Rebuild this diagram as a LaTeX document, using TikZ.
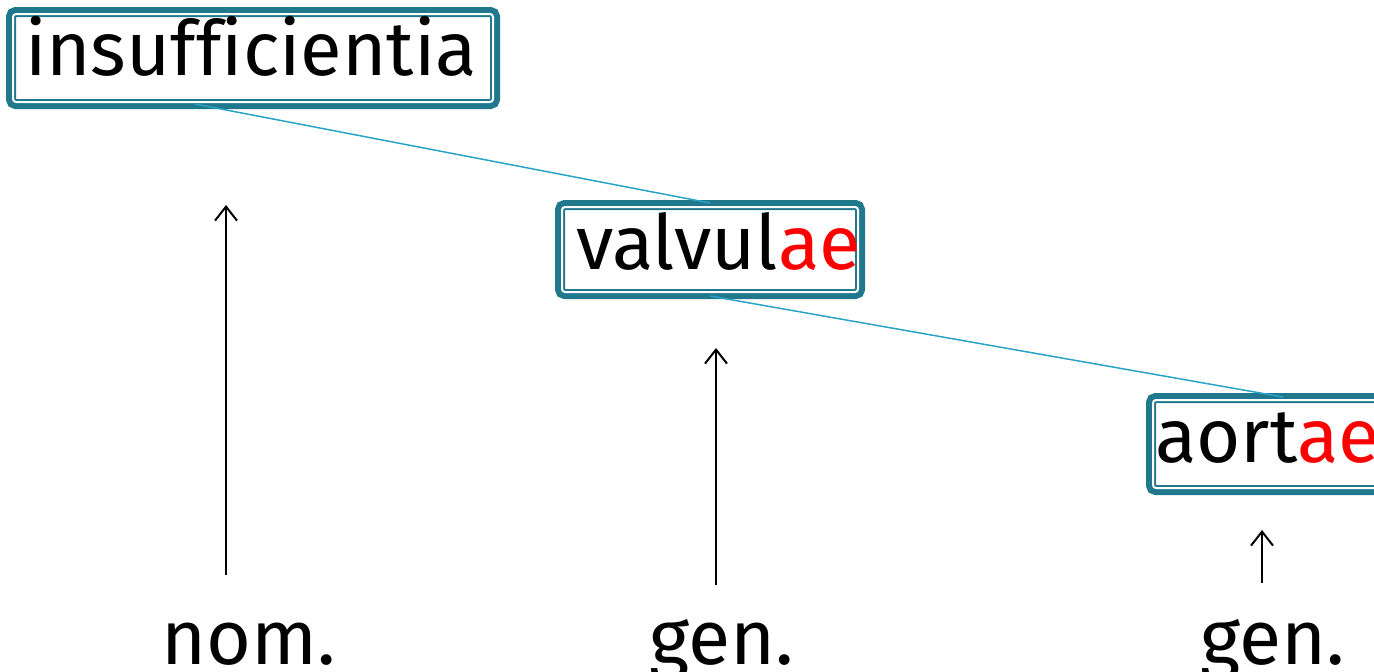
\documentclass[tikz,border=0pt]{standalone}
\usepackage{fontspec}
\setmainfont[Ligatures=NoCommon]{Fira Sans}
\usetikzlibrary{arrows.meta,calc}
\definecolor{boxteal}{RGB}{31,120,140}
\definecolor{linkblue}{RGB}{42,163,199}
\definecolor{endred}{RGB}{255,0,0}
\begin{document}
\begin{tikzpicture}[x=1pt,y=-1pt,
  wordbox/.style={preaction={draw=boxteal, line width=14pt},
    draw=boxteal, double=white, line width=2pt, double distance=2pt,
    rounded corners=3pt, fill=white,
    inner ysep=0pt, align=left,
    font=\fontsize{76}{80}\selectfont},
  caselabel/.style={anchor=base, inner sep=0pt, font=\fontsize{77}{80}\selectfont},
  link/.style={draw=linkblue, line width=1.5pt},
  uparrow/.style={draw=black, line width=2pt, -{Straight Barb[length=14pt,width=22pt,line width=2pt]}}
]
\useasboundingbox (0,0) rectangle (1374,672);
% boxes
\node[wordbox, inner xsep=12pt, text width=456pt, text height=61pt, text depth=27pt] (ins) at (253,58) {insufficientia};
\node[wordbox, inner xsep=14pt, text width=268pt, text height=62pt, text depth=23pt] (val) at (710,249.5) {valvul\textcolor{endred}{ae}};
\node[wordbox, inner xsep=2pt, text width=260pt, text height=62pt, text depth=26pt] (aor) at (1285,444) {aort\textcolor{endred}{ae}};
% connectors (on top, ending in the outer border)
\draw[link] ([xshift=-58pt,yshift=-1pt]ins.south) -- ([yshift=3pt]val.north);
\draw[link] ([yshift=-3pt]val.south) -- ([xshift=-2pt,yshift=2pt]aor.north);
% case labels
\node[caselabel] (nom) at (249,664) {nom.};
\node[caselabel] (gen1) at (721.5,664) {gen.};
\node[caselabel] (gen2) at (1273,664) {gen.};
% arrows
\coordinate (nomtail) at (226,575);
\coordinate (nomtip) at (226,205);
\coordinate (gentailA) at (716,585);
\coordinate (gentipA) at (716,348);
\coordinate (gentailB) at (1262,583);
\coordinate (gentipB) at (1262,530);
\draw[uparrow] (nomtail) -- (nomtip);
\draw[uparrow] (gentailA) -- (gentipA);
\draw[uparrow] (gentailB) -- (gentipB);
\end{tikzpicture}
\end{document}
